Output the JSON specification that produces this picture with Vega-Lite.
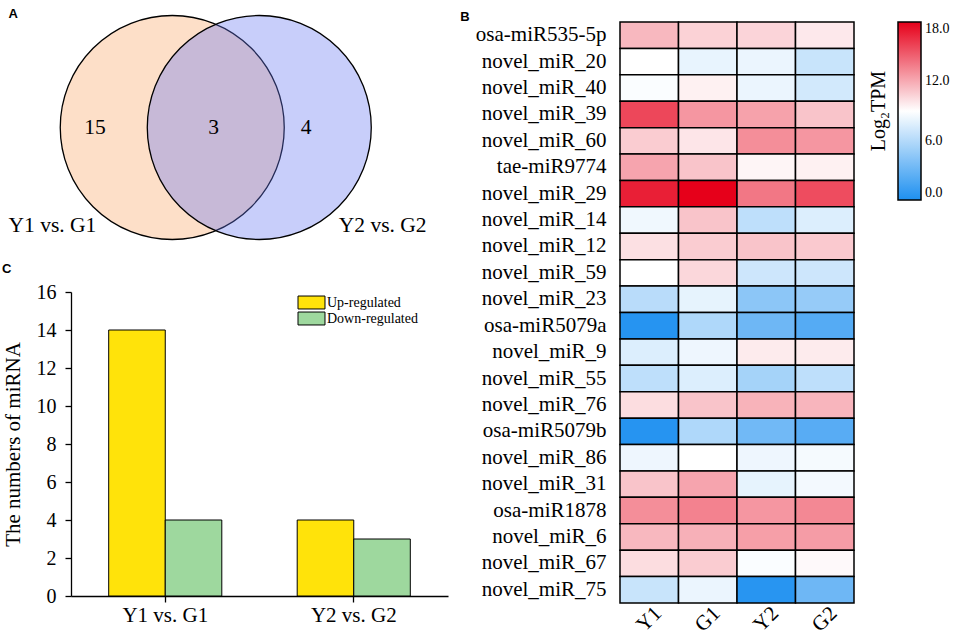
{
 "$schema": "https://vega.github.io/schema/vega-lite/v6.json",
 "padding": {"left": 2, "top": 8, "right": 5, "bottom": 5},
 "config": {
  "font": "Liberation Serif",
  "view": {"stroke": null},
  "axis": {"labelColor": "black", "titleColor": "black", "domainColor": "black", "tickColor": "black", "labelFont": "Liberation Serif", "titleFont": "Liberation Serif", "titleFontWeight": "normal", "grid": false},
  "legend": {"labelColor": "black", "titleColor": "black", "labelFont": "Liberation Serif", "titleFont": "Liberation Serif"},
  "title": {"font": "Liberation Sans", "fontWeight": "bold", "fontSize": 13, "anchor": "start", "frame": "bounds", "color": "black"}
 },
 "datasets": {
  "venn": [
   {"set": "Y1 vs. G1", "cx": 0, "cy": 0},
   {"set": "Y2 vs. G2", "cx": 0.777, "cy": 0}
  ],
  "vennText": [
   {"label": "15", "cx": -0.69, "cy": 0},
   {"label": "3", "cx": 0.37, "cy": 0},
   {"label": "4", "cx": 1.195, "cy": 0},
   {"label": "Y1 vs. G1", "cx": -1.07, "cy": -0.88},
   {"label": "Y2 vs. G2", "cx": 1.879, "cy": -0.88}
  ],
  "bars": [
   {"comparison": "Y1 vs. G1", "regulation": "Up-regulated", "count": 14},
   {"comparison": "Y1 vs. G1", "regulation": "Down-regulated", "count": 4},
   {"comparison": "Y2 vs. G2", "regulation": "Up-regulated", "count": 4},
   {"comparison": "Y2 vs. G2", "regulation": "Down-regulated", "count": 3}
  ],
  "heat": [
   {"mirna": "osa-miR535-5p", "sample": "Y1", "value": 11.5},
   {"mirna": "osa-miR535-5p", "sample": "G1", "value": 10.6},
   {"mirna": "osa-miR535-5p", "sample": "Y2", "value": 10.5},
   {"mirna": "osa-miR535-5p", "sample": "G2", "value": 9.8},
   {"mirna": "novel_miR_20", "sample": "Y1", "value": 9.0},
   {"mirna": "novel_miR_20", "sample": "G1", "value": 8.1},
   {"mirna": "novel_miR_20", "sample": "Y2", "value": 8.2},
   {"mirna": "novel_miR_20", "sample": "G2", "value": 6.8},
   {"mirna": "novel_miR_40", "sample": "Y1", "value": 8.8},
   {"mirna": "novel_miR_40", "sample": "G1", "value": 9.5},
   {"mirna": "novel_miR_40", "sample": "Y2", "value": 8.2},
   {"mirna": "novel_miR_40", "sample": "G2", "value": 7.2},
   {"mirna": "novel_miR_39", "sample": "Y1", "value": 15.5},
   {"mirna": "novel_miR_39", "sample": "G1", "value": 12.7},
   {"mirna": "novel_miR_39", "sample": "Y2", "value": 12.3},
   {"mirna": "novel_miR_39", "sample": "G2", "value": 11.1},
   {"mirna": "novel_miR_60", "sample": "Y1", "value": 10.8},
   {"mirna": "novel_miR_60", "sample": "G1", "value": 9.9},
   {"mirna": "novel_miR_60", "sample": "Y2", "value": 13.0},
   {"mirna": "novel_miR_60", "sample": "G2", "value": 12.7},
   {"mirna": "tae-miR9774", "sample": "Y1", "value": 12.2},
   {"mirna": "tae-miR9774", "sample": "G1", "value": 11.1},
   {"mirna": "tae-miR9774", "sample": "Y2", "value": 9.35},
   {"mirna": "tae-miR9774", "sample": "G2", "value": 9.5},
   {"mirna": "novel_miR_29", "sample": "Y1", "value": 16.9},
   {"mirna": "novel_miR_29", "sample": "G1", "value": 18.0},
   {"mirna": "novel_miR_29", "sample": "Y2", "value": 13.8},
   {"mirna": "novel_miR_29", "sample": "G2", "value": 15.3},
   {"mirna": "novel_miR_14", "sample": "Y1", "value": 8.4},
   {"mirna": "novel_miR_14", "sample": "G1", "value": 11.1},
   {"mirna": "novel_miR_14", "sample": "Y2", "value": 6.4},
   {"mirna": "novel_miR_14", "sample": "G2", "value": 7.6},
   {"mirna": "novel_miR_12", "sample": "Y1", "value": 10.1},
   {"mirna": "novel_miR_12", "sample": "G1", "value": 10.8},
   {"mirna": "novel_miR_12", "sample": "Y2", "value": 11.1},
   {"mirna": "novel_miR_12", "sample": "G2", "value": 10.9},
   {"mirna": "novel_miR_59", "sample": "Y1", "value": 9.0},
   {"mirna": "novel_miR_59", "sample": "G1", "value": 10.4},
   {"mirna": "novel_miR_59", "sample": "Y2", "value": 7.0},
   {"mirna": "novel_miR_59", "sample": "G2", "value": 7.0},
   {"mirna": "novel_miR_23", "sample": "Y1", "value": 6.2},
   {"mirna": "novel_miR_23", "sample": "G1", "value": 8.0},
   {"mirna": "novel_miR_23", "sample": "Y2", "value": 4.4},
   {"mirna": "novel_miR_23", "sample": "G2", "value": 4.8},
   {"mirna": "osa-miR5079a", "sample": "Y1", "value": 0.3},
   {"mirna": "osa-miR5079a", "sample": "G1", "value": 5.8},
   {"mirna": "osa-miR5079a", "sample": "Y2", "value": 3.2},
   {"mirna": "osa-miR5079a", "sample": "G2", "value": 2.2},
   {"mirna": "novel_miR_9", "sample": "Y1", "value": 7.6},
   {"mirna": "novel_miR_9", "sample": "G1", "value": 8.3},
   {"mirna": "novel_miR_9", "sample": "Y2", "value": 9.7},
   {"mirna": "novel_miR_9", "sample": "G2", "value": 9.7},
   {"mirna": "novel_miR_55", "sample": "Y1", "value": 6.4},
   {"mirna": "novel_miR_55", "sample": "G1", "value": 7.6},
   {"mirna": "novel_miR_55", "sample": "Y2", "value": 5.4},
   {"mirna": "novel_miR_55", "sample": "G2", "value": 6.4},
   {"mirna": "novel_miR_76", "sample": "Y1", "value": 10.2},
   {"mirna": "novel_miR_76", "sample": "G1", "value": 11.1},
   {"mirna": "novel_miR_76", "sample": "Y2", "value": 11.7},
   {"mirna": "novel_miR_76", "sample": "G2", "value": 11.6},
   {"mirna": "osa-miR5079b", "sample": "Y1", "value": 0.3},
   {"mirna": "osa-miR5079b", "sample": "G1", "value": 5.8},
   {"mirna": "osa-miR5079b", "sample": "Y2", "value": 3.3},
   {"mirna": "osa-miR5079b", "sample": "G2", "value": 2.3},
   {"mirna": "novel_miR_86", "sample": "Y1", "value": 8.3},
   {"mirna": "novel_miR_86", "sample": "G1", "value": 9.0},
   {"mirna": "novel_miR_86", "sample": "Y2", "value": 8.3},
   {"mirna": "novel_miR_86", "sample": "G2", "value": 8.6},
   {"mirna": "novel_miR_31", "sample": "Y1", "value": 11.1},
   {"mirna": "novel_miR_31", "sample": "G1", "value": 12.2},
   {"mirna": "novel_miR_31", "sample": "Y2", "value": 8.0},
   {"mirna": "novel_miR_31", "sample": "G2", "value": 8.5},
   {"mirna": "osa-miR1878", "sample": "Y1", "value": 13.0},
   {"mirna": "osa-miR1878", "sample": "G1", "value": 13.4},
   {"mirna": "osa-miR1878", "sample": "Y2", "value": 12.7},
   {"mirna": "osa-miR1878", "sample": "G2", "value": 13.2},
   {"mirna": "novel_miR_6", "sample": "Y1", "value": 11.5},
   {"mirna": "novel_miR_6", "sample": "G1", "value": 11.8},
   {"mirna": "novel_miR_6", "sample": "Y2", "value": 12.4},
   {"mirna": "novel_miR_6", "sample": "G2", "value": 12.5},
   {"mirna": "novel_miR_67", "sample": "Y1", "value": 10.2},
   {"mirna": "novel_miR_67", "sample": "G1", "value": 10.8},
   {"mirna": "novel_miR_67", "sample": "Y2", "value": 8.8},
   {"mirna": "novel_miR_67", "sample": "G2", "value": 9.2},
   {"mirna": "novel_miR_75", "sample": "Y1", "value": 6.8},
   {"mirna": "novel_miR_75", "sample": "G1", "value": 8.2},
   {"mirna": "novel_miR_75", "sample": "Y2", "value": 0.4},
   {"mirna": "novel_miR_75", "sample": "G2", "value": 3.2}
  ]
 },
 "spacing": 12,
 "hconcat": [
  {
   "spacing": 17,
   "resolve": {"scale": {"fill": "independent"}, "legend": {"fill": "independent"}},
   "vconcat": [
    {
     "title": {"text": "A", "offset": -8.5},
     "width": 377,
     "height": 224,
     "layer": [
      {
       "data": {"name": "venn"},
       "mark": {"type": "point", "shape": "circle", "filled": true, "opacity": 1, "size": 50176, "stroke": "black", "strokeWidth": 1.3},
       "encoding": {
        "x": {"field": "cx", "type": "quantitative", "scale": {"domain": [-0.904, 2.462], "nice": false, "zero": false}, "axis": null},
        "y": {"field": "cy", "type": "quantitative", "scale": {"domain": [-1.058, 0.942], "nice": false, "zero": false}, "axis": null},
        "fill": {"field": "set", "type": "nominal", "scale": {"domain": ["Y1 vs. G1", "Y2 vs. G2"], "range": ["#FDDFC8", "rgba(103,119,241,0.36)"]}, "legend": null}
       }
      },
      {
       "data": {"name": "vennText"},
       "mark": {"type": "text", "fontSize": 21.5, "color": "black"},
       "encoding": {
        "x": {"field": "cx", "type": "quantitative"},
        "y": {"field": "cy", "type": "quantitative"},
        "text": {"field": "label", "type": "nominal"}
       }
      }
     ]
    },
    {
     "title": {"text": "C", "offset": 6},
     "data": {"name": "bars"},
     "width": 377,
     "height": 304,
     "mark": {"type": "bar", "stroke": "black", "strokeWidth": 1},
     "encoding": {
      "x": {"field": "comparison", "type": "nominal", "sort": ["Y1 vs. G1", "Y2 vs. G2"], "scale": {"paddingInner": 0.4, "paddingOuter": 0.2},
            "axis": {"title": null, "labelAngle": 0, "labelFontSize": 21, "tickSize": 6, "labelPadding": 2, "domainWidth": 1.3, "tickWidth": 1.3}},
      "xOffset": {"field": "regulation", "type": "nominal", "sort": ["Up-regulated", "Down-regulated"], "scale": {"paddingInner": 0, "paddingOuter": 0}},
      "y": {"field": "count", "type": "quantitative", "scale": {"domain": [0, 16], "nice": false},
            "axis": {"values": [0, 2, 4, 6, 8, 10, 12, 14, 16], "title": "The numbers of miRNA", "titleFontSize": 21, "labelFontSize": 20, "tickSize": 6, "labelPadding": 9, "titlePadding": 13, "domainWidth": 1.3, "tickWidth": 1.3}},
      "fill": {"field": "regulation", "type": "nominal", "scale": {"domain": ["Up-regulated", "Down-regulated"], "range": ["#FFE30A", "#9ED89E"]},
               "legend": {"title": null, "orient": "none", "legendX": 233, "legendY": 3, "symbolType": "M-2,-0.96H2V0.96H-2Z", "symbolSize": 182, "symbolStrokeColor": "black", "symbolStrokeWidth": 1, "symbolOpacity": 1, "labelFontSize": 14, "rowPadding": -2, "labelOffset": 8, "padding": 0}}
     }
    }
   ]
  },
  {
   "title": {"text": "B", "offset": -3, "dx": -15},
   "data": {"name": "heat"},
   "width": 234,
   "height": 581,
   "mark": {"type": "rect", "stroke": "black", "strokeWidth": 1.5},
   "encoding": {
    "x": {"field": "sample", "type": "nominal", "sort": ["Y1", "G1", "Y2", "G2"],
          "axis": {"title": null, "labelAngle": -45, "labelAlign": "center", "labelBaseline": "middle", "labelFontSize": 21, "ticks": false, "domain": false, "labelPadding": 16}},
    "y": {"field": "mirna", "type": "nominal", "sort": null,
          "axis": {"title": null, "labelFontSize": 21, "ticks": false, "domain": false, "labelPadding": 14}},
    "color": {"field": "value", "type": "quantitative",
              "scale": {"domain": [0, 9, 18], "range": ["#1E90F0", "#FFFFFF", "#E6001A"], "interpolate": "rgb"},
              "legend": {"title": "Log₂TPM", "titleOrient": "left", "titleFontSize": 20, "titleFontWeight": "normal", "titlePadding": 8,
                         "gradientLength": 178, "gradientThickness": 23, "gradientStrokeColor": "black", "gradientStrokeWidth": 1.5,
                         "values": [0, 6, 12, 18], "format": ".1f", "labelFontSize": 14, "labelOffset": 4, "offset": 14, "padding": 0, "direction": "vertical",
                         "encoding": {"title": {"angle": {"value": 270}}}}}
   }
  }
 ]
}
